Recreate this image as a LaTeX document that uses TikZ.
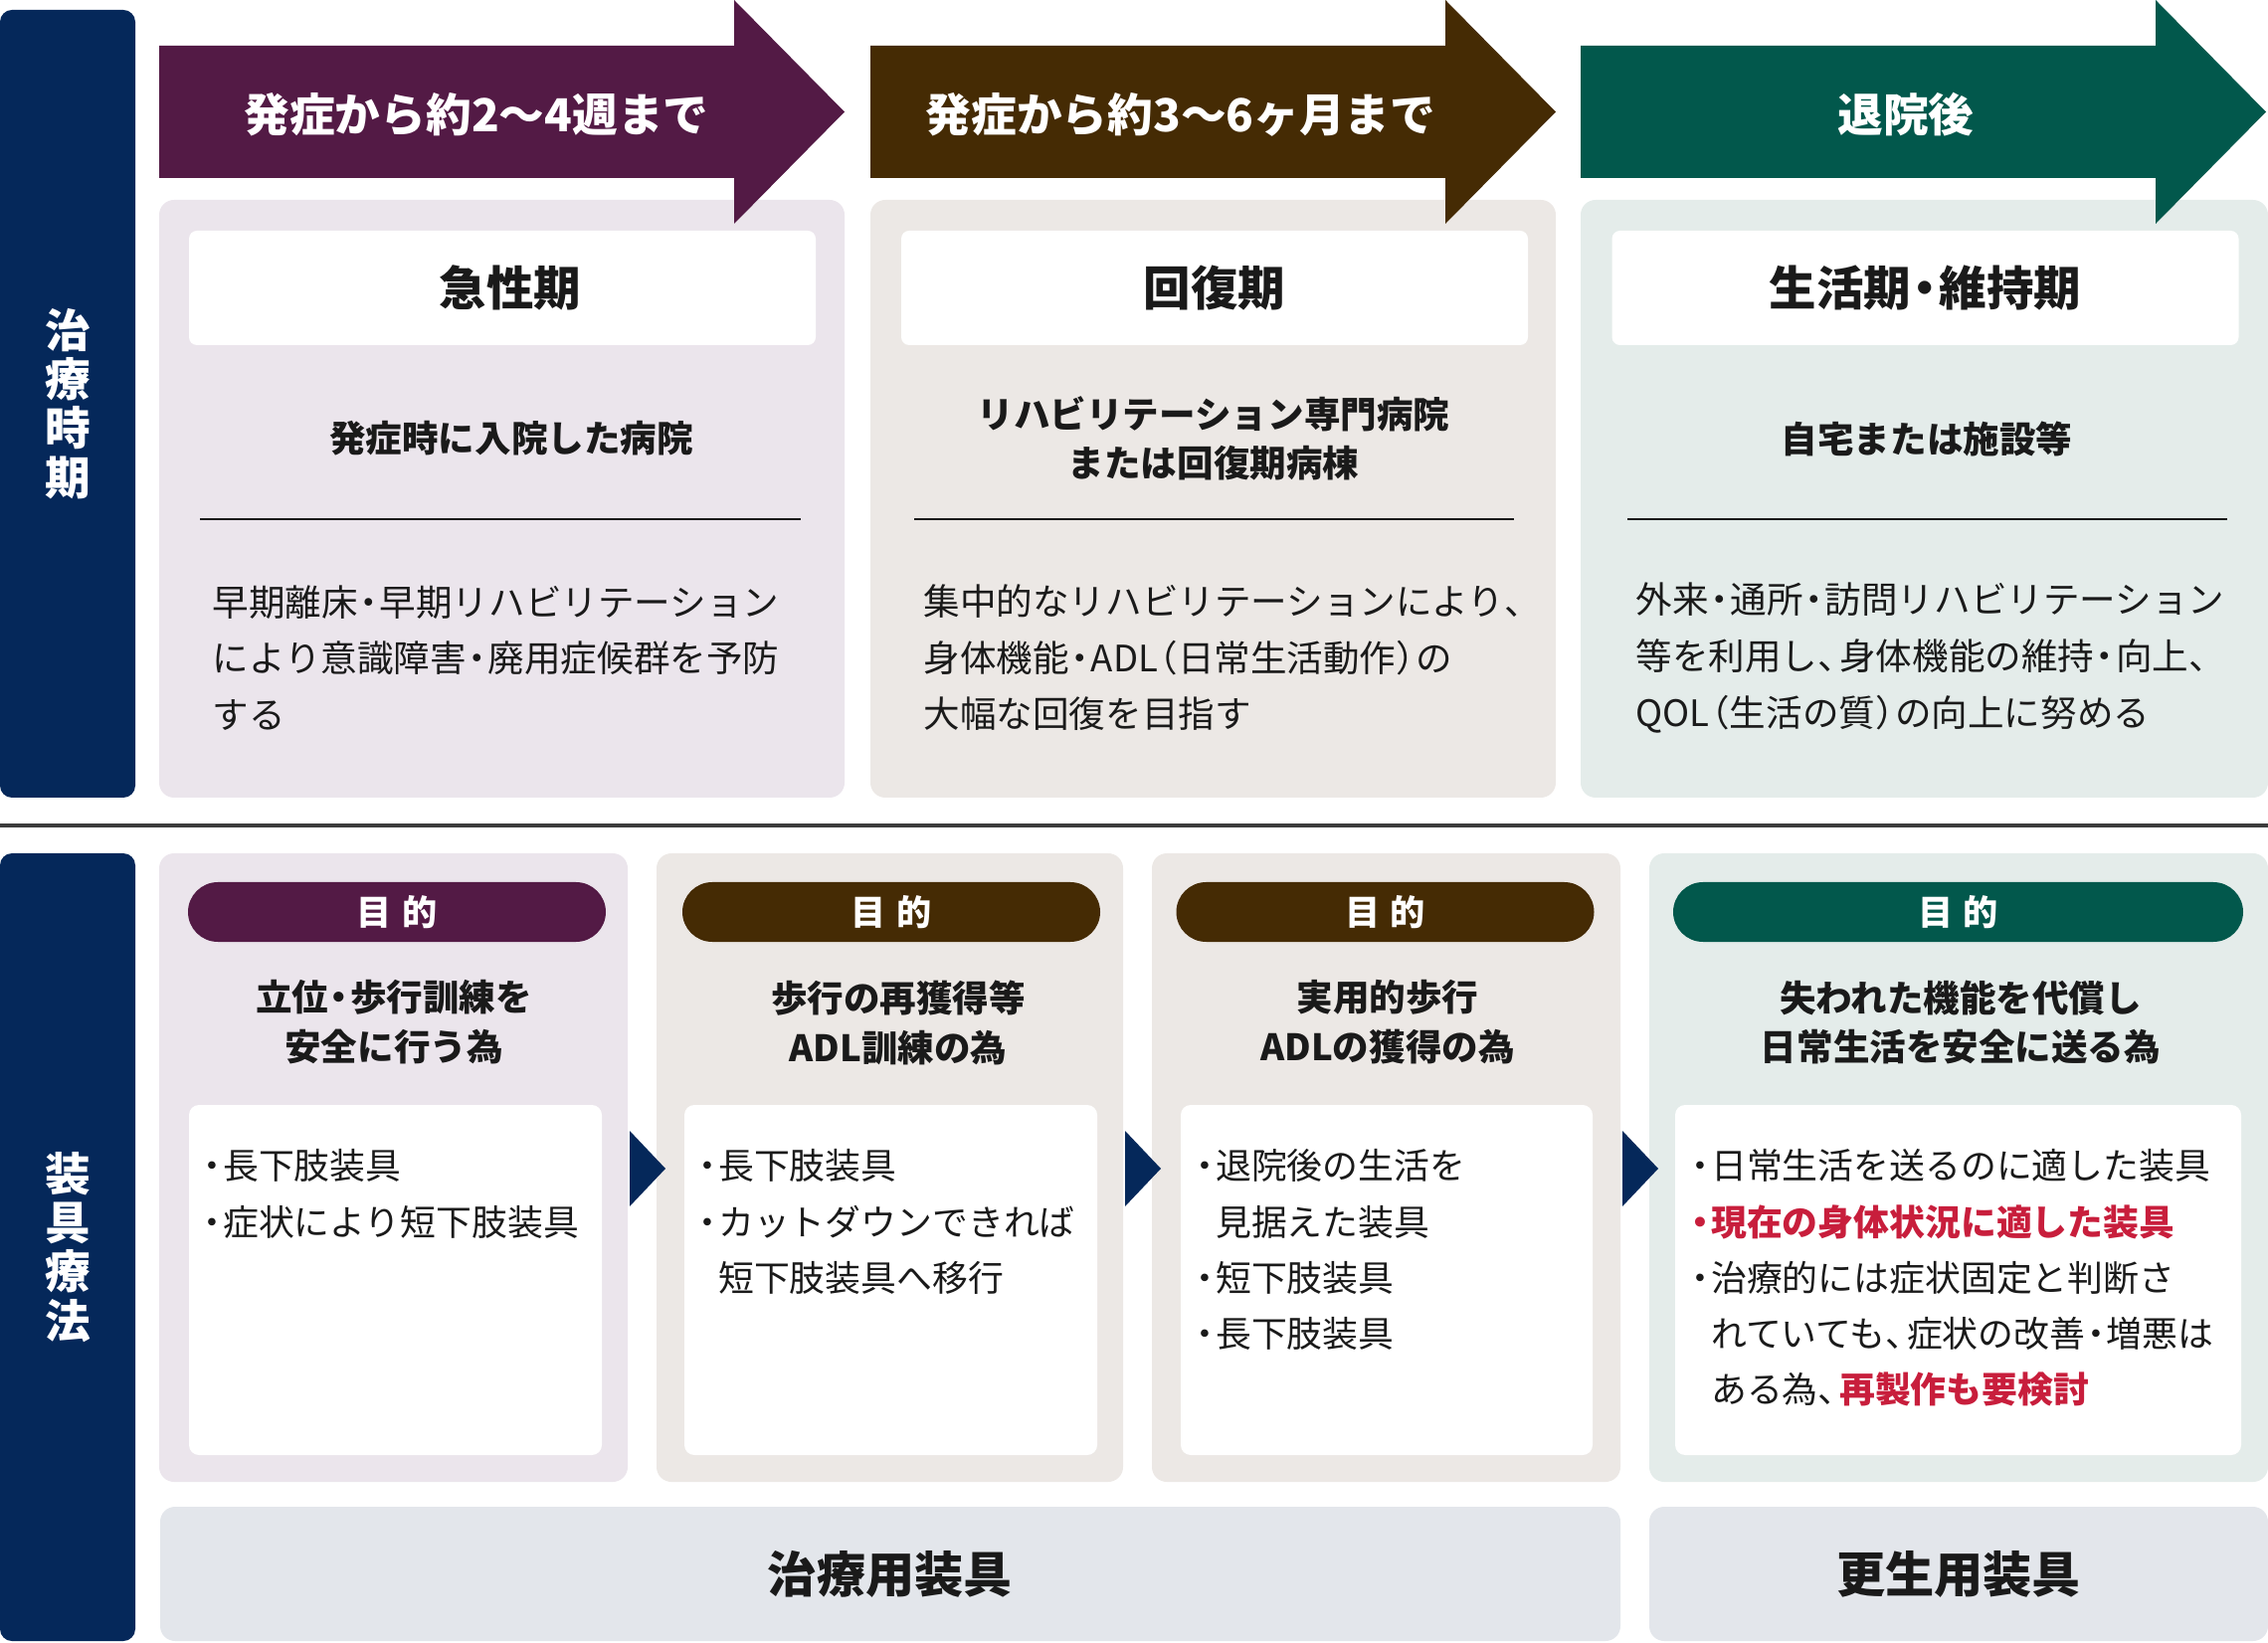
\documentclass[tikz,border=0pt]{standalone}
\usepackage{fontspec}
\setmainfont{Noto Sans CJK JP}
\usetikzlibrary{positioning,calc}

\definecolor{navy}{HTML}{05285A}
\definecolor{plum}{HTML}{531A45}
\definecolor{umber}{HTML}{452B04}
\definecolor{pine}{HTML}{02584C}
\definecolor{plumbg}{HTML}{EBE5EC}
\definecolor{umberbg}{HTML}{ECE8E5}
\definecolor{pinebg}{HTML}{E4ECEA}
\definecolor{graybg}{HTML}{E3E6EB}
\definecolor{alert}{HTML}{C81E3C}
\definecolor{ink}{HTML}{1A1A1A}

% narrow middle dot, comma and brackets
\newcommand{\nkg}{\makebox[0.6em]{・}}
\newcommand{\tcm}{\makebox[0.6em][l]{、}}
\newcommand{\lbr}{\makebox[0.55em][r]{（}}
\newcommand{\rbr}{\makebox[0.55em][l]{）}}

\begin{document}
\begin{tikzpicture}[
    every node/.style={inner sep=0pt, text=ink},
    sidebar/.style={rectangle, rounded corners=0.12cm, fill=navy, minimum width=1.36cm,
                    minimum height=7.92cm, text=white, align=center,
                    font=\fontsize{13}{14}\selectfont\bfseries},
    panel/.style={rectangle, rounded corners=0.15cm},
    titlebox/.style={rectangle, rounded corners=0.08cm, fill=white, minimum width=6.30cm,
                     minimum height=1.15cm, font=\fontsize{13.5}{16}\selectfont\bfseries},
    place/.style={align=center, font=\fontsize{10.4}{14}\selectfont\bfseries},
    body/.style={align=left, anchor=west, font=\fontsize{10.4}{16.1}\selectfont},
    phase/.style={text=white, font=\fontsize{13}{15}\selectfont\bfseries},
    pill/.style={rectangle, rounded corners=0.3cm, minimum width=4.20cm, minimum height=0.60cm,
                 text=white, font=\fontsize{10}{12}\selectfont\bfseries},
    aim/.style={align=center, font=\fontsize{10.4}{14.2}\selectfont\bfseries},
    card/.style={rectangle, rounded corners=0.1cm, fill=white, minimum height=3.52cm},
    items/.style={align=left, anchor=north west, font=\fontsize{10.2}{16}\selectfont},
    kind/.style={rectangle, rounded corners=0.15cm, fill=graybg, minimum height=1.35cm,
                 font=\fontsize{14}{16}\selectfont\bfseries}
]
    \useasboundingbox (0,0) rectangle (22.8,-16.52);

    % Side labels
    \node (period) [sidebar] at (0.68,-4.06) {治\\療\\時\\期};
    \node (therapy) [sidebar] at (0.68,-12.54) {装\\具\\療\\法};

    % Phase panels
    \node (acute) [panel, fill=plumbg, minimum width=6.89cm, minimum height=6.01cm] at (5.045,-5.015) {};
    \node (recovery) [panel, fill=umberbg, minimum width=6.89cm, minimum height=6.01cm] at (12.195,-5.015) {};
    \node (living) [panel, fill=pinebg, minimum width=6.91cm, minimum height=6.01cm] at (19.345,-5.015) {};

    % Phase arrows
    \foreach \x/\c in {1.60/plum, 8.75/umber, 15.89/pine}
        \fill[\c] (\x,-0.46) -- ++(5.78,0) -- ++(0,0.46) -- ++(1.11,-1.125)
                  -- ++(-1.11,-1.125) -- ++(0,0.46) -- ++(-5.78,0) -- cycle;
    \node (acuteSpan) [phase] at (4.79,-1.15) {発症から約2〜4週まで};
    \node (recoverySpan) [phase] at (11.87,-1.15) {発症から約3〜6ヶ月まで};
    \node (livingSpan) [phase] at (19.16,-1.15) {退院後};

    % Phase titles
    \node (acuteTitle) [titlebox] at (5.05,-2.895) {};
    \node (recoveryTitle) [titlebox] at (12.21,-2.895) {回復期};
    \node (livingTitle) [titlebox] at (19.355,-2.895) {生活期\nkg 維持期};
    \node (acuteName) [font=\fontsize{13.5}{16}\selectfont\bfseries] at (5.13,-2.895) {急性期};

    \node (acutePlace) [place] at (5.14,-4.41) {発症時に入院した病院};
    \node (recoveryPlace) [place] at (12.20,-4.41) {リハビリテーション専門病院\\または回復期病棟};
    \node (livingPlace) [place] at (19.37,-4.41) {自宅または施設等};

    \draw[ink, line width=0.6pt] (2.01,-5.22) -- (8.05,-5.22);
    \draw[ink, line width=0.6pt] (9.19,-5.22) -- (15.22,-5.22);
    \draw[ink, line width=0.6pt] (16.36,-5.22) -- (22.39,-5.22);

    \node (acuteText) [body] at (2.13,-6.615)
        {早期離床\nkg 早期リハビリテーション\\により意識障害\nkg 廃用症候群を予防\\する};
    \node (recoveryText) [body] at (9.28,-6.615)
        {集中的なリハビリテーションにより\tcm\\身体機能\nkg ADL\lbr 日常生活動作\rbr の\\大幅な回復を目指す};
    \node (livingText) [body] at (16.44,-6.615)
        {外来\nkg 通所\nkg 訪問リハビリテーション\\等を利用し\tcm 身体機能の維持\nkg 向上\tcm\\QOL\lbr 生活の質\rbr の向上に努める};

    % Separator
    \draw[ink!85, line width=0.9pt] (0,-8.30) -- (22.8,-8.30);

    % Orthosis panels
    \node (stageA) [panel, fill=plumbg, minimum width=4.71cm, minimum height=6.32cm] at (3.955,-11.74) {};
    \node (stageB) [panel, fill=umberbg, minimum width=4.69cm, minimum height=6.32cm] at (8.945,-11.74) {};
    \node (stageC) [panel, fill=umberbg, minimum width=4.71cm, minimum height=6.32cm] at (13.935,-11.74) {};
    \node (stageD) [panel, fill=pinebg, minimum width=6.22cm, minimum height=6.32cm] at (19.69,-11.74) {};

    \node (pillA) [pill, fill=plum] at (3.99,-9.17) {目\hspace{0.3em}的};
    \node (pillB) [pill, fill=umber] at (8.96,-9.17) {目\hspace{0.3em}的};
    \node (pillC) [pill, fill=umber] at (13.925,-9.17) {目\hspace{0.3em}的};
    \node (pillD) [pill, fill=pine, minimum width=5.73cm] at (19.685,-9.17) {目\hspace{0.3em}的};

    \node (aimA) [aim] at (3.96,-10.28) {立位\nkg 歩行訓練を\\安全に行う為};
    \node (aimB) [aim] at (9.03,-10.28) {歩行の再獲得等\\ADL訓練の為};
    \node (aimC) [aim] at (13.95,-10.28) {実用的歩行\\ADLの獲得の為};
    \node (aimD) [aim] at (19.71,-10.28) {失われた機能を代償し\\日常生活を安全に送る為};

    \node (cardA) [card, minimum width=4.15cm] at (3.975,-12.87) {};
    \node (cardB) [card, minimum width=4.15cm] at (8.955,-12.87) {};
    \node (cardC) [card, minimum width=4.14cm] at (13.94,-12.87) {};
    \node (cardD) [card, minimum width=5.69cm] at (19.685,-12.87) {};

    \node (itemsA) [items] at (2.02,-11.55) {\nkg 長下肢装具\\\nkg 症状により短下肢装具};
    \node (itemsB) [items] at (7.00,-11.55)
        {\nkg 長下肢装具\\\nkg カットダウンできれば\\\hspace*{0.6em}短下肢装具へ移行};
    \node (itemsC) [items] at (12.00,-11.55)
        {\nkg 退院後の生活を\\\hspace*{0.6em}見据えた装具\\\nkg 短下肢装具\\\nkg 長下肢装具};
    \node (itemsD) [items] at (16.98,-11.55)
        {\nkg 日常生活を送るのに適した装具\\
         \textcolor{alert}{\bfseries\nkg 現在の身体状況に適した装具}\\
         \nkg 治療的には症状固定と判断さ\\
         \hspace*{0.6em}れていても\tcm 症状の改善\nkg 増悪は\\
         \hspace*{0.6em}ある為\tcm\textcolor{alert}{\bfseries 再製作も要検討}};

    % Chevrons
    \foreach \x in {6.33, 11.31, 16.31}
        \fill[navy] (\x,-11.37) -- ++(0.36,-0.38) -- ++(-0.36,-0.38) -- cycle;

    % Orthosis kinds
    \node (cure) [kind, minimum width=14.68cm] at (8.95,-15.825) {治療用装具};
    \node (rehab) [kind, minimum width=6.22cm] at (19.69,-15.825) {更生用装具};

\end{tikzpicture}
\end{document}
